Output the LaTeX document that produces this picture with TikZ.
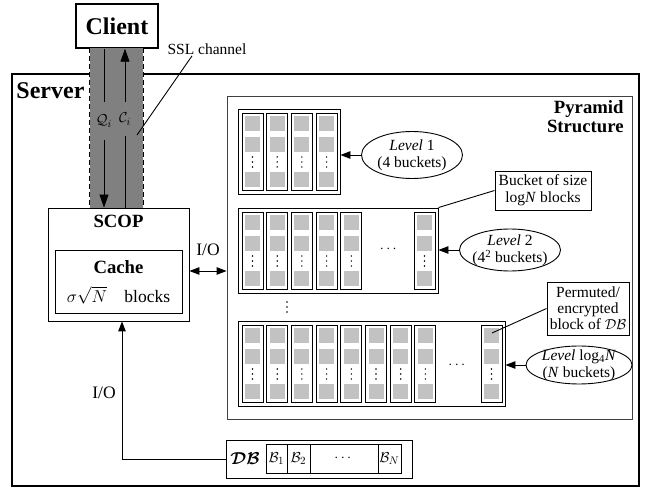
\documentclass[tikz,border=0pt]{standalone}
\usepackage{fontspec}
\setmainfont{Liberation Serif}
\usepackage{amsmath}
\usetikzlibrary{shapes.geometric,arrows.meta}
\definecolor{chgray}{gray}{0.5}
\definecolor{blkgray}{gray}{0.76}
\definecolor{edgegray}{gray}{0.25}
\newcommand{\bigbf}{\fontsize{24}{26}\selectfont\bfseries}
\newcommand{\midbf}{\fontsize{18.7}{19.5}\selectfont\bfseries}
\newcommand{\txt}{\fontsize{15.5}{17}\selectfont}
\newcommand{\iotxt}{\fontsize{17.5}{19}\selectfont}
\tikzset{box/.style = {draw, rectangle, inner sep=0pt},
         grp/.style = {draw, rectangle, inner sep=0pt},
         bkt/.style = {draw, rectangle, inner sep=0pt, minimum width=21pt, minimum height=77pt},
         blk/.style = {fill=blkgray},
         lvl/.style = {draw, ellipse, inner sep=0pt},
         lbl/.style = {inner sep=1pt, font=\txt, align=center}}
% one bucket: name, left x, top y
\newcommand{\drawbucket}[3]{%
  \node[bkt] (#1) at (#2+10.5,#3+38.5) {};
  \foreach \dy in {3,24,59} {\fill[blk] (#2+3,#3+\dy) rectangle ++(15,15);}
  \foreach \dy in {44,49,54} {\fill (#2+10.5,#3+\dy) circle (0.8pt);}
}

\begin{document}
\begin{tikzpicture}[x=1pt, y=-1pt, line width=0.9pt, >={Triangle[length=10pt,width=7.5pt]}]
    \useasboundingbox (0,0) rectangle (649,489);
    % server, client and the channel
    \node[box, line width=2pt, minimum width=627pt, minimum height=412pt] (server) at (325.5,280) {};
    \node[anchor=west, inner sep=0pt, font=\bigbf] (srvlab) at (16,91) {Server};
    \node[box, line width=1.5pt, minimum width=82pt, minimum height=44pt, font=\bigbf] (client) at (117,26) {Client};
    \node[fill=chgray, inner sep=0pt, minimum width=53pt, minimum height=160pt] (chan) at (116.5,128) {};
    \draw[dash pattern=on 5pt off 3pt] (chan.north west) -- (chan.south west) (chan.north east) -- (chan.south east);
    \node[box, fill=white, minimum width=141pt, minimum height=113pt] (scop) at (118.5,264.5) {};
    \node[font=\midbf] (scoplab) at (118.5,221) {SCOP};
    \node[box, minimum width=127pt, minimum height=63pt] (cache) at (118.5,281.5) {};
    \node[font=\midbf] (cachelab) at (118.5,267) {Cache};
    \node[font=\iotxt] (cachesz) at (118.5,295) {$\sigma\sqrt{N}$\quad blocks};
    \node[inner sep=0pt, minimum height=38pt, font=\txt] (qlab) at (104,121) {$\mathcal{Q}_i$};
    \node[inner sep=0pt, minimum height=34pt, font=\txt] (clab) at (125,119) {$\mathcal{C}_i$};
    \draw (client.south -| qlab) -- (qlab.north);
    \draw[-{Triangle[length=13pt,width=9pt]}] (qlab.south) -- (qlab |- scop.north);
    \draw[-{Triangle[length=13pt,width=9pt]}] (clab.north) -- (clab |- client.south);
    \draw (clab |- scop.north) -- (clab.south);
    \node[lbl] (ssl) at (207,49) {SSL channel};
    \coordinate (sslpt) at (137,135);
    \draw ([xshift=-15pt]ssl.south) -- (sslpt);
    % pyramid structure
    \node[grp, draw=edgegray, minimum width=405pt, minimum height=323pt] (pyr) at (429.5,257.5) {};
    \node[anchor=north east, inner sep=0pt, align=right, font=\midbf] (pyrlab) at (624,100) {Pyramid\\Structure};
    \node[grp, minimum width=102pt, minimum height=85pt] (grp1) at (289,151.5) {};
    \foreach \k in {0,...,3} {\drawbucket{b1\k}{242+\k*24.7}{113}}
    \node[grp, minimum width=200pt, minimum height=85pt] (grp2) at (338,250.5) {};
    \foreach \k in {0,...,4} {\drawbucket{b2\k}{242+\k*24.7}{212}}
    \drawbucket{b2n}{414}{212}
    \node[lbl] (dots2) at (389.5,249) {$\cdots$};
    \foreach \dy in {302,307,312} {\fill (287,\dy) circle (0.9pt);}
    \node[grp, minimum width=267pt, minimum height=85pt] (grp3) at (371.5,363.5) {};
    \foreach \k in {0,...,7} {\drawbucket{b3\k}{242+\k*24.7}{325}}
    \drawbucket{b3n}{481}{325}
    \node[lbl] (dots3) at (458,365) {$\cdots$};
    % levels
    \node[lvl, minimum width=101pt, minimum height=47pt] (lev1) at (412,155) {};
    \node[lbl] (lev1lab) at (lev1) {\textit{Level} 1\\(4 buckets)};
    \draw[->] (lev1.west) -- (lev1.west -| grp1.east);
    \node[lvl, minimum width=101pt, minimum height=42pt] (lev2) at (510,250) {};
    \node[lbl] (lev2lab) at (lev2) {\textit{Level} 2\\(4\textsuperscript{2} buckets)};
    \draw[->] (lev2.west) -- (lev2.west -| grp2.east);
    \node[lvl, minimum width=106pt, minimum height=38pt] (lev3) at (579,365) {};
    \node[lbl] (lev3lab) at (lev3) {\textit{Level} log\textsubscript{4}\textit{N}\\(\textit{N} buckets)};
    \draw[->] (lev3.west) -- (lev3.west -| grp3.east);
    \node[box, minimum width=96pt, minimum height=39pt, font=\txt, align=center] (bsize) at (543,190.5) {Bucket of size\\log\textit{N} blocks};
    \draw (bsize.west) -- (grp2.north east);
    \node[box, minimum width=82pt, minimum height=53pt, font=\fontsize{15.5}{16}\selectfont, align=center] (perm) at (588,308.5) {Permuted/\\encrypted\\block of $\mathcal{DB}$};
    \coordinate (permpt) at (492,333);
    \draw (perm.west) -- (permpt);
    % database
    \node[box, minimum width=186pt, minimum height=38pt] (db) at (319,459) {};
    \node[font=\fontsize{17}{19}\selectfont] (dblab) at (245,459) {$\boldsymbol{\mathcal{DB}}$};
    \node[box, minimum width=21pt, minimum height=29pt, font=\txt] (cell1) at (276.5,458.5) {$\mathcal{B}_1$};
    \node[box, minimum width=23pt, minimum height=29pt, font=\txt] (cell2) at (298.5,458.5) {$\mathcal{B}_2$};
    \node[box, minimum width=68pt, minimum height=29pt, font=\txt] (cellx) at (344,458.5) {$\cdots$};
    \node[box, minimum width=23pt, minimum height=29pt, font=\txt] (celln) at (389.5,458.5) {$\mathcal{B}_N$};
    % I/O paths
    \draw[<->] ([yshift=-6.5pt]scop.east) -- ([yshift=-13.5pt]pyr.west);
    \node[font=\iotxt] (io1) at (208,250) {I/O};
    \draw[->] (db.west) -| ([xshift=3.5pt]scop.south);
    \node[font=\iotxt] (io2) at (104,393) {I/O};
\end{tikzpicture}
\end{document}
